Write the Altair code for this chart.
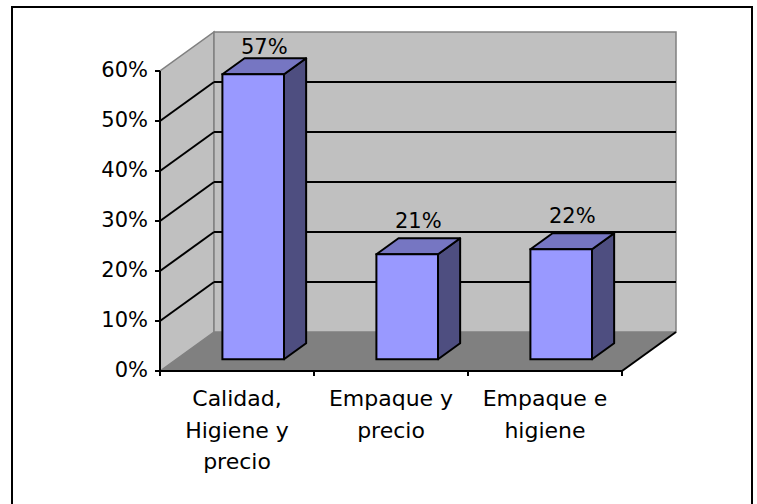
import altair as alt
import pandas as pd

# ---- data -------------------------------------------------------------
categories = ["Calidad,\nHigiene y\nprecio", "Empaque y\nprecio", "Empaque e\nhigiene"]
values = [57, 21, 22]                      # percent
label_texts = ["57%", "21%", "22%"]
y_ticks = [0, 10, 20, 30, 40, 50, 60]
y_tick_labels = ["0%", "10%", "20%", "30%", "40%", "50%", "60%"]
grid_values = [10, 20, 30, 40, 50]

# ---- layout (pixels) ---------------------------------------------------
W, H = 757, 504
X0_PX, CAT_PX = 160, 154        # front axis origin and width of one category
Y0_PX, PCT_PX = 371, 5          # baseline and pixels per percentage point
DEPTH_DX_PX, DEPTH_DY_PX = 54, 39  # oblique depth of the 3-D box
FRAME_PX = (12, 752, 7, 530)    # left, right, top, bottom of the outer frame

n = len(categories)
ymax = y_ticks[-1]


def ux(px):
    return (px - X0_PX) / CAT_PX


def uy(py):
    return (Y0_PX - py) / PCT_PX


x_dom = [ux(0), ux(W)]
y_dom = [uy(H), uy(0)]
ox = DEPTH_DX_PX / CAT_PX       # depth offset in category units
oy = DEPTH_DY_PX / PCT_PX       # depth offset in percent units
z0, z1 = 0.30, 0.71             # bar front/back depth fractions
half = 0.20                     # half bar width (category units)
tick_x = 5 / CAT_PX
tick_y = 5 / PCT_PX

xs = alt.Scale(domain=x_dom, nice=False, zero=False)
ys = alt.Scale(domain=y_dom, nice=False, zero=False)


def X(f="x"):
    return alt.X(f"{f}:Q", scale=xs, axis=None)


def Y(f="y"):
    return alt.Y(f"{f}:Q", scale=ys, axis=None)


def segs(rows):
    """Line segments (x, y) -> (x2, y2) drawn as rules."""
    return pd.DataFrame(rows, columns=["x", "y", "x2", "y2"])


def rules(df, color="black", width=2):
    return alt.Chart(df).mark_rule(color=color, strokeWidth=width).encode(
        x=X(), y=Y(), x2="x2:Q", y2="y2:Q"
    )


FONT = "DejaVu Sans"
WALL = "#C0C0C0"
WALL_EDGE = "#808080"
FLOOR = "#808080"
FRONT = "#9999FF"
TOP = "#7676C2"
SIDE = "#4E4E80"

# ---- outer frame -------------------------------------------------------
fl, fr, ft, fb = FRAME_PX
frame = alt.Chart(pd.DataFrame({"x": [ux(fl)], "x2": [ux(fr)],
                                "y": [uy(ft)], "y2": [uy(fb)]})).mark_rect(
    fill="white", stroke="black", strokeWidth=2
).encode(x=X(), x2="x2:Q", y=Y(), y2="y2:Q")

# ---- floor (horizontal parallelogram) ----------------------------------
floor_df = pd.DataFrame({"y": [0, oy], "x": [0, ox], "x2": [n, n + ox]})
floor = alt.Chart(floor_df).mark_area(
    orient="horizontal", color=FLOOR, stroke=WALL_EDGE, strokeWidth=1
).encode(y=Y(), x=X(), x2="x2:Q")

# ---- left wall ---------------------------------------------------------
lw_df = pd.DataFrame({"x": [0, ox], "y": [0, oy], "y2": [ymax, ymax + oy]})
left_wall = alt.Chart(lw_df).mark_area(
    color=WALL, stroke=WALL_EDGE, strokeWidth=1.5
).encode(x=X(), y=Y(), y2="y2:Q")

# ---- back wall ---------------------------------------------------------
bw_df = pd.DataFrame({"x": [ox], "x2": [n + ox], "y": [oy], "y2": [ymax + oy]})
back_wall = alt.Chart(bw_df).mark_rect(
    fill=WALL, stroke=WALL_EDGE, strokeWidth=1.5
).encode(x=X(), x2="x2:Q", y=Y(), y2="y2:Q")

# ---- gridlines on both walls, floor edge -------------------------------
grid_back = rules(segs([(ox, v + oy, n + ox, v + oy) for v in grid_values]))
grid_left = rules(segs([(0, v, ox, v + oy) for v in grid_values]))
floor_edge = rules(segs([(n, 0, n + ox, oy)]))

# ---- axes --------------------------------------------------------------
x_axis = rules(segs([(0, 0, n, 0)]))
x_ticks = rules(segs([(i, 0, i, -tick_y) for i in range(n + 1)]))
y_axis = rules(segs([(0, 0, 0, ymax)]))
y_tick_marks = rules(segs([(-tick_x, v, 0, v) for v in y_ticks]))

yt_df = pd.DataFrame({"x": [0] * len(y_ticks), "y": y_ticks, "label": y_tick_labels})
y_labels = alt.Chart(yt_df).mark_text(
    align="right", baseline="middle", dx=-12, font=FONT, fontSize=21, color="black"
).encode(x=X(), y=Y(), text="label:N")

xl_df = pd.DataFrame({"x": [i + 0.5 for i in range(n)], "y": [0] * n,
                      "label": categories})
x_labels = alt.Chart(xl_df).mark_text(
    align="center", baseline="top", dy=18, lineBreak="\n", lineHeight=31.5,
    font=FONT, fontSize=22, color="black"
).encode(x=X(), y=Y(), text="label:N")

# ---- 3-D bars ----------------------------------------------------------
rows_front, rows_side, rows_top, rows_lab = [], [], [], []
for i, (v, t) in enumerate(zip(values, label_texts)):
    c = i + 0.5
    xl, xr = c - half + z0 * ox, c + half + z0 * ox
    b0, b1 = z0 * oy, z1 * oy
    sx = (z1 - z0) * ox
    rows_front.append({"bar": i, "x": xl, "x2": xr, "y": b0, "y2": v + b0})
    rows_side += [
        {"bar": i, "x": xr, "y": b0, "y2": v + b0},
        {"bar": i, "x": xr + sx, "y": b1, "y2": v + b1},
    ]
    rows_top += [
        {"bar": i, "y": v + b0, "x": xl, "x2": xr},
        {"bar": i, "y": v + b1, "x": xl + sx, "x2": xr + sx},
    ]
    rows_lab.append({"x": c + (z0 + z1) / 2 * ox,
                     "y": min(v + b1 + 2, ymax + 3.4), "label": t})

side = alt.Chart(pd.DataFrame(rows_side)).mark_area(
    color=SIDE, stroke="black", strokeWidth=2, strokeJoin="round"
).encode(x=X(), y=Y(), y2="y2:Q", detail="bar:N")
top = alt.Chart(pd.DataFrame(rows_top)).mark_area(
    orient="horizontal", color=TOP, stroke="black", strokeWidth=2, strokeJoin="round"
).encode(y=Y(), x=X(), x2="x2:Q", detail="bar:N")
front = alt.Chart(pd.DataFrame(rows_front)).mark_rect(
    fill=FRONT, stroke="black", strokeWidth=2
).encode(x=X(), x2="x2:Q", y=Y(), y2="y2:Q")
bar_labels = alt.Chart(pd.DataFrame(rows_lab)).mark_text(
    align="center", baseline="alphabetic", font=FONT, fontSize=21, color="black"
).encode(x=X(), y=Y(), text="label:N")

chart = alt.layer(
    frame, floor, left_wall, back_wall, grid_back, grid_left, floor_edge,
    x_axis, x_ticks, y_axis, y_tick_marks, y_labels, x_labels,
    side, top, front, bar_labels,
).properties(
    width=W, height=H, padding=0, autosize=alt.AutoSizeParams(type="none")
).configure_view(stroke=None)

chart.save("out.html", embed_options={"renderer": "svg", "actions": False})
